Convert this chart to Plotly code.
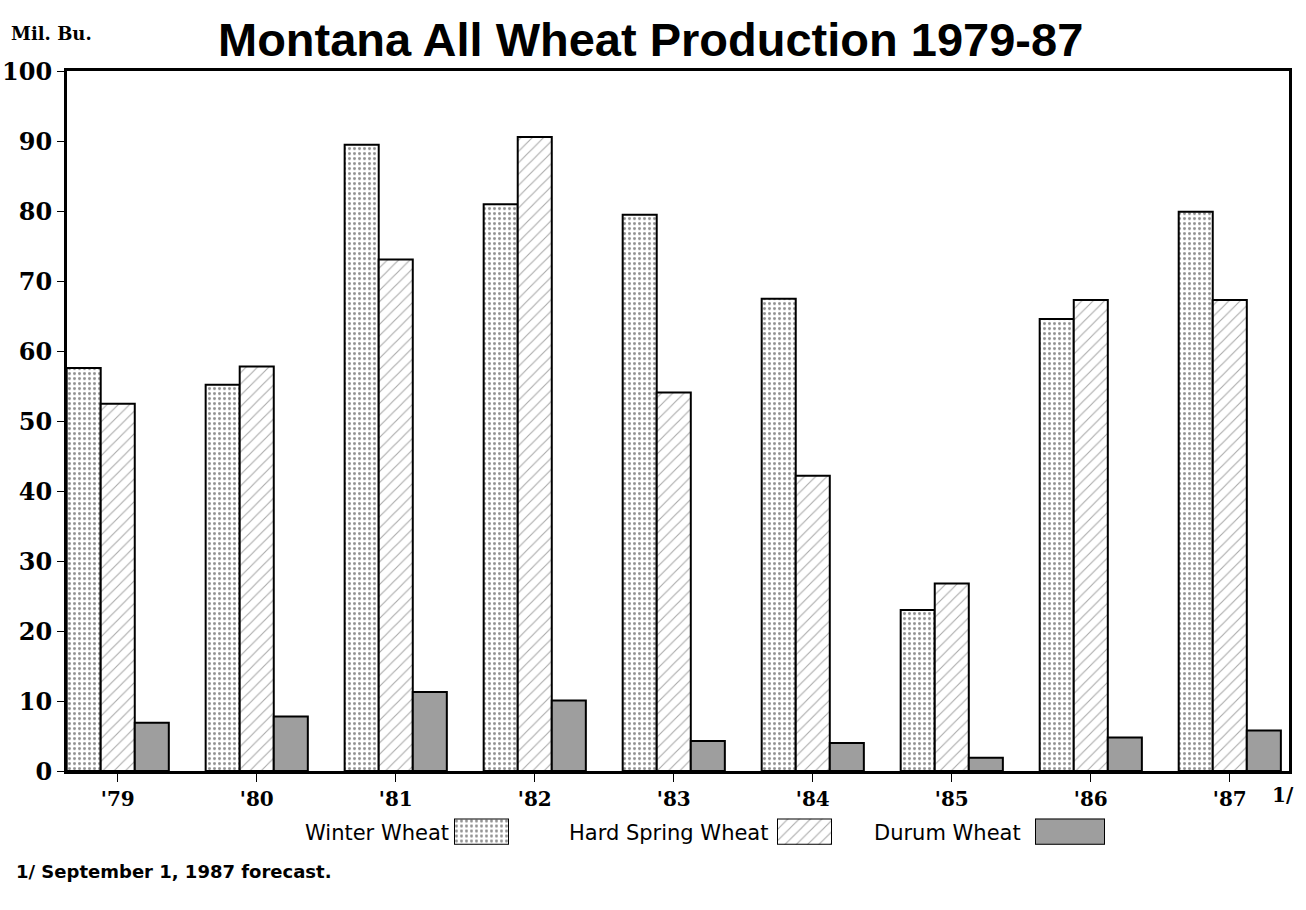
import plotly.graph_objects as go

# ---- data ----
years = ["'79", "'80", "'81", "'82", "'83", "'84", "'85", "'86", "'87"]
winter_wheat = [57.6, 55.2, 89.5, 81.0, 79.5, 67.5, 23.0, 64.6, 79.9]
hard_spring_wheat = [52.5, 57.8, 73.1, 90.6, 54.1, 42.2, 26.8, 67.3, 67.3]
durum_wheat = [6.9, 7.8, 11.3, 10.1, 4.3, 4.0, 1.9, 4.8, 5.8]
series_names = ["Winter Wheat", "Hard Spring Wheat", "Durum Wheat"]
y_ticks = [0, 10, 20, 30, 40, 50, 60, 70, 80, 90, 100]

W, H = 1306, 910
def px(x):
    return x / W
def py(y):
    return 1 - y / H

SERIF = "DejaVu Serif"
SANS = "DejaVu Sans"

styles = [
    dict(color="white", pattern=dict(shape=".", fgcolor="#222", bgcolor="white", size=5, solidity=0.28)),
    dict(color="white", pattern=dict(shape="/", fgcolor="#555", bgcolor="white", size=8, solidity=0.14)),
    dict(color="#9e9e9e"),
]

fig = go.Figure()
for name, vals, st in zip(series_names, [winter_wheat, hard_spring_wheat, durum_wheat], styles):
    fig.add_trace(go.Bar(
        x=years, y=vals, name=name, showlegend=False,
        marker=dict(line=dict(color="black", width=2), **st),
        xaxis="x", yaxis="y",
    ))

# legend swatches drawn as single bars on small axes
swatch_px = [(454, 509), (777, 832), (1035, 1105)]
swatch_y = (830, 857)
layout_axes = {}
for i, (name, st, (x0, x1)) in enumerate(zip(series_names, styles, swatch_px), start=2):
    fig.add_trace(go.Bar(
        x=[name], y=[1], width=[1], showlegend=False, hoverinfo="skip",
        marker=dict(line=dict(color="black", width=2), **st),
        xaxis=f"x{i}", yaxis=f"y{i}",
    ))
    layout_axes[f"xaxis{i}"] = dict(domain=[px(x0), px(x1)], anchor=f"y{i}", visible=False,
                                    range=[-0.5, 0.5], fixedrange=True)
    layout_axes[f"yaxis{i}"] = dict(domain=[py(swatch_y[1]), py(swatch_y[0])], anchor=f"x{i}",
                                    visible=False, range=[0, 1], fixedrange=True)

fig.update_layout(
    width=W, height=H,
    margin=dict(l=0, r=0, t=0, b=0),
    paper_bgcolor="white", plot_bgcolor="white",
    barmode="group", bargap=0.265, bargroupgap=0,
    showlegend=False,
    xaxis=dict(
        domain=[px(67), px(1289)], anchor="y",
        type="category", range=[-0.365, 8.426],
        showline=True, linecolor="black", linewidth=3, mirror=True,
        ticks="outside", ticklen=8, tickwidth=1, tickcolor="black",
        showgrid=False, zeroline=False,
        tickfont=dict(family=SERIF, size=20, color="black", weight="bold"),
    ),
    yaxis=dict(
        domain=[py(781), py(58)], anchor="x",
        range=[0, 100], tickvals=y_ticks,
        showline=True, linecolor="black", linewidth=3, mirror=True,
        ticks="outside", ticklen=7, tickwidth=1, tickcolor="black",
        showgrid=False, zeroline=False,
        tickfont=dict(family=SERIF, size=24, color="black", weight="bold"),
    ),
    **layout_axes,
)

ann = [
    dict(text="Montana All Wheat Production 1979-87", x=px(650), y=py(25),
         font=dict(family="Liberation Sans", size=47, color="black", weight="bold")),
    dict(text="Mil. Bu.", x=px(9), y=py(19), xanchor="left",
         font=dict(family=SERIF, size=18, color="black", weight="bold")),
    dict(text="1/", x=px(1270), y=py(806), xanchor="left",
         font=dict(family=SERIF, size=20, color="black", weight="bold")),
    dict(text="Winter Wheat", x=px(451), y=py(845), xanchor="right",
         font=dict(family=SANS, size=21, color="black")),
    dict(text="Hard Spring Wheat", x=px(770), y=py(845), xanchor="right",
         font=dict(family=SANS, size=21, color="black")),
    dict(text="Durum Wheat", x=px(1023), y=py(845), xanchor="right",
         font=dict(family=SANS, size=21, color="black")),
    dict(text="1/ September 1, 1987 forecast.", x=px(14), y=py(885), xanchor="left",
         font=dict(family=SANS, size=18, color="black", weight="bold")),
]
for a in ann:
    a.setdefault("xanchor", "center")
    fig.add_annotation(xref="paper", yref="paper", showarrow=False, yanchor="middle", **a)

fig.write_html(
    "out.html",
    config={"displayModeBar": False},
    post_script="document.body.style.margin='0';document.body.style.overflow='hidden';",
)
